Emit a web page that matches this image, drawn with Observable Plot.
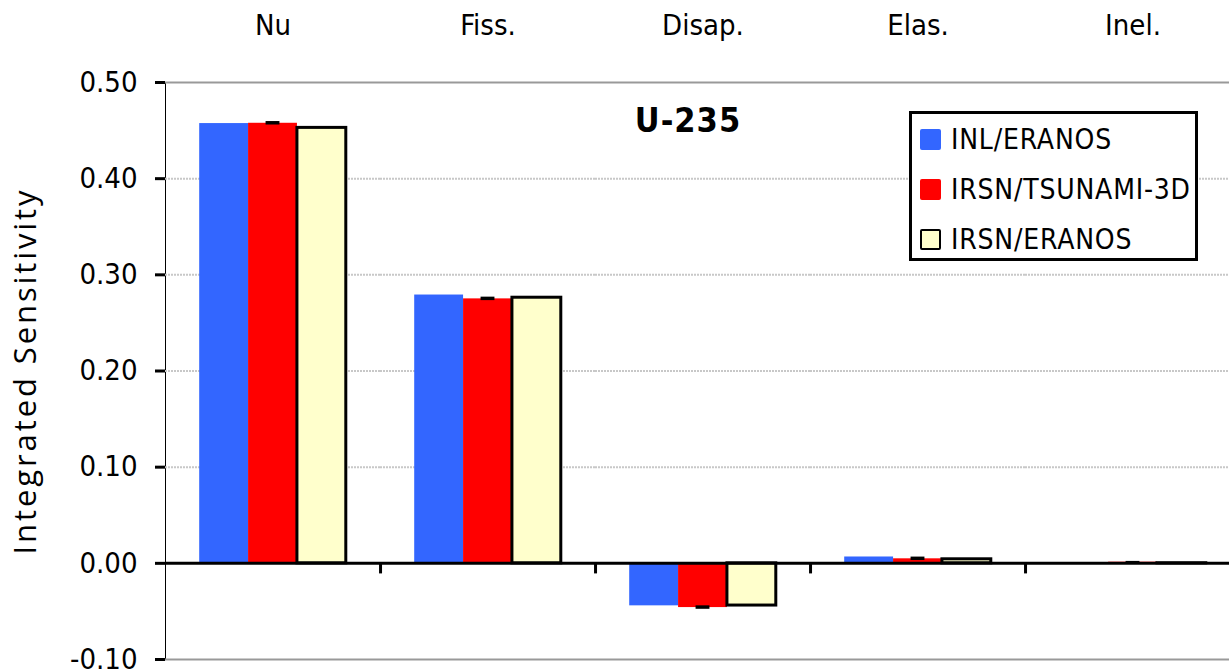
<!DOCTYPE html>
<html>
<head>
<meta charset="utf-8">
<script src="https://cdn.jsdelivr.net/npm/d3@7"></script>
<script src="https://cdn.jsdelivr.net/npm/@observablehq/plot@0.6"></script>
<style>
  html, body { margin: 0; padding: 0; background: #fff; }
  #wrap { position: relative; width: 1229px; height: 671px; overflow: hidden; background: #fff; }
  #wrap svg { max-width: none !important; }
  g[aria-label^="y-axis"] path, g[aria-label^="y-axis"] line { stroke-width: 3px; stroke: #000; }
  g[aria-label="y-axis label"] text { font-family: "Open Sans", sans-serif; font-size: 31px; letter-spacing: 2.9px; }
  #title { position: absolute; left: 588px; top: 103px; width: 200px; text-align: center;
           font: bold 34px/34px "DejaVu Sans Condensed", "DejaVu Sans", sans-serif; letter-spacing: 1px; color: #000; }
  #legend { position: absolute; left: 909px; top: 111px; width: 289px; height: 150px; box-sizing: border-box;
            border: 3px solid #000; background: #fff; }
  .row { height: 50px; display: flex; align-items: center; font: 28px "DejaVu Sans Condensed", "DejaVu Sans", sans-serif; letter-spacing: 0.8px; color: #000; }
  .sw { width: 21px; height: 21px; margin-left: 8px; margin-right: 10px; box-sizing: border-box; border-radius: 2px; flex: none; }
</style>
</head>
<body>
<div id="wrap"></div>
<script>
const categories = ["Nu", "Fiss.", "Disap.", "Elas.", "Inel."];
const seriesNames = ["INL/ERANOS", "IRSN/TSUNAMI-3D", "IRSN/ERANOS"];
const inlEranos   = [0.4573, 0.2790, -0.0442, 0.0066, 0.0001];
const irsnTsunami = [0.4576, 0.2750, -0.0460, 0.0047, 0.0012];
const irsnEranos  = [0.4528, 0.2762, -0.0439, 0.0042, 0.0001];
const tsunamiErr  = [0.0018, 0.0018, 0.0018, 0.0018, 0.0008];
const yTicks = [-0.1, 0.0, 0.1, 0.2, 0.3, 0.4, 0.5];
const seriesColors = ["#3366ff", "#ff0000", "#ffffcc"];
const chartTitle = "U-235";
const yLabel = "Integrated Sensitivity";

const allSeries = [inlEranos, irsnTsunami, irsnEranos];
const data = categories.flatMap((c, i) => seriesNames.map((s, j) => ({category: c, series: s, value: allSeries[j][i]})));
const errData = categories.map((c, i) => ({category: c, series: seriesNames[1], lo: irsnTsunami[i] - tsunamiErr[i], hi: irsnTsunami[i] + tsunamiErr[i]}));
const gridInner = yTicks.filter(t => t !== 0 && t !== yTicks[0] && t !== yTicks[yTicks.length - 1]);
const gridOuter = [yTicks[0], yTicks[yTicks.length - 1]];
const fmt = d3.format(".2f");
const tickFmt = d => fmt(d).replace("\u2212", "-");

const chart = Plot.plot({
  width: 1240, height: 671,
  marginLeft: 165, marginRight: 0, marginTop: 82, marginBottom: 12,
  style: {fontFamily: "'DejaVu Sans Condensed', 'DejaVu Sans', sans-serif", fontSize: "29px", color: "#000", background: "white", maxWidth: "none", overflow: "visible"},
  fx: {domain: categories, padding: 0, round: false, axis: "top", tickSize: 0, tickPadding: 48, label: null},
  x: {domain: seriesNames, paddingInner: 0, paddingOuter: 0.7, round: false, axis: null},
  y: {domain: [yTicks[0], yTicks[yTicks.length - 1]], ticks: yTicks, tickFormat: tickFmt, tickSize: 10, tickPadding: 18,
      label: yLabel, labelAnchor: "center", labelArrow: "none", labelOffset: 152, line: true},
  color: {domain: seriesNames, range: seriesColors},
  marks: [
    Plot.ruleY(gridInner, {stroke: "#c8c8c8", strokeWidth: 2, strokeDasharray: "2,1"}),
    Plot.ruleY(gridOuter, {stroke: "#999999", strokeWidth: 2}),
    Plot.barY(data.filter(d => d.series !== seriesNames[2]), {fx: "category", x: "series", y: "value", fill: "series"}),
    Plot.barY(data.filter(d => d.series === seriesNames[2]), {fx: "category", x: "series", y: "value", fill: "series", stroke: "#000", strokeWidth: 3}),
    Plot.barY(errData, {fx: "category", x: "series", y1: "lo", y2: "hi", fill: "#000", insetLeft: 17.5, insetRight: 17.5}),
    Plot.ruleY([0], {stroke: "#000", strokeWidth: 3}),
    Plot.ruleX(categories.slice(1), {fx: d => d, x: () => seriesNames[0], y1: 0, y2: -0.011, stroke: "#000", strokeWidth: 3, dx: -58.6})
  ]
});
const wrap = document.getElementById("wrap");
wrap.appendChild(chart);

const t = document.createElement("div");
t.id = "title"; t.textContent = chartTitle; wrap.appendChild(t);

const lg = document.createElement("div");
lg.id = "legend";
seriesNames.forEach((s, j) => {
  const row = document.createElement("div"); row.className = "row";
  const sw = document.createElement("div"); sw.className = "sw";
  sw.style.background = seriesColors[j];
  if (j === 2) sw.style.border = "2.5px solid #000";
  const tx = document.createElement("span"); tx.textContent = s;
  row.appendChild(sw); row.appendChild(tx); lg.appendChild(row);
});
wrap.appendChild(lg);
</script>
</body>
</html>
